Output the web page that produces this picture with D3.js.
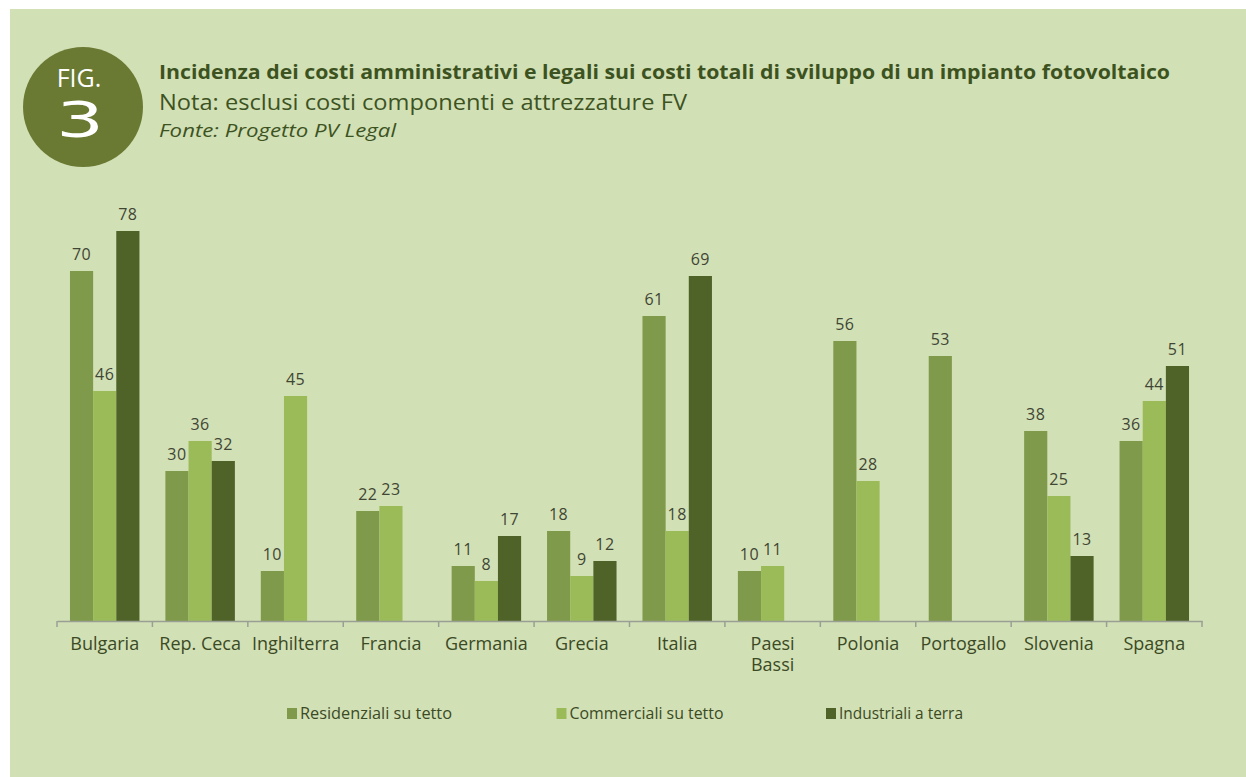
<!DOCTYPE html>
<html>
<head>
<meta charset="utf-8">
<script src="https://cdn.jsdelivr.net/npm/d3@7/dist/d3.min.js"></script>
<style>
  html, body { margin: 0; padding: 0; background: #ffffff; }
  svg { display: block; }
</style>
</head>
<body>
<svg id="chart" width="1246" height="777"></svg>
<script>
// Countries on the x axis
const categories = ["Bulgaria", "Rep. Ceca", "Inghilterra", "Francia", "Germania", "Grecia",
  "Italia", "Paesi Bassi", "Polonia", "Portogallo", "Slovenia", "Spagna"];

// Share of administrative and legal costs (%), per plant type; null = no data
const residenziali = [70, 30, 10, 22, 11, 18, 61, 10, 56, 53, 38, 36];
const commerciali  = [46, 36, 45, 23, 8, 9, 18, 11, 28, null, 25, 44];
const industriali  = [78, 32, null, null, 17, 12, 69, null, null, null, 13, 51];

const seriesNames = ["Residenziali su tetto", "Commerciali  su tetto", "Industriali a terra"];
const seriesValues = [residenziali, commerciali, industriali];
const seriesColors = ["#7f9a4a", "#9bbb59", "#4f6228"];

const titleText = "Incidenza dei costi amministrativi e legali sui costi totali di sviluppo di un impianto fotovoltaico";
const noteText = "Nota: esclusi costi componenti e attrezzature FV";
const sourceText = "Fonte: Progetto PV Legal";

const svg = d3.select("#chart");
const textFont = "'Open Sans', 'DejaVu Sans', sans-serif";

// Background panel
svg.append("rect")
  .attr("x", 10).attr("y", 9)
  .attr("width", 1246 - 10).attr("height", 777 - 9)
  .attr("fill", "#d2e0b6");

// Figure badge
const badge = svg.append("g");
badge.append("circle")
  .attr("cx", 83).attr("cy", 107).attr("r", 60)
  .attr("fill", "#6b7a33");
badge.append("text")
  .attr("x", 79).attr("y", 87)
  .attr("text-anchor", "middle")
  .attr("font-family", textFont)
  .attr("font-size", 25)
  .attr("fill", "#ffffff")
  .text("FIG.");
badge.append("text")
  .attr("x", 0).attr("y", 0)
  .attr("text-anchor", "middle")
  .attr("font-family", "'DejaVu Sans', sans-serif")
  .attr("font-size", 50)
  .attr("fill", "#ffffff")
  .attr("transform", "translate(80,137) scale(1.5,1.0)")
  .text("3");

// Title block
svg.append("text")
  .attr("x", 159).attr("y", 79)
  .attr("font-family", textFont)
  .attr("font-size", 20)
  .attr("font-weight", "bold")
  .attr("fill", "#3d531f")
  .attr("textLength", 1011)
  .attr("lengthAdjust", "spacingAndGlyphs")
  .text(titleText);
svg.append("text")
  .attr("x", 159).attr("y", 110)
  .attr("font-family", textFont)
  .attr("font-size", 21)
  .attr("fill", "#3d531f")
  .attr("textLength", 528)
  .attr("lengthAdjust", "spacingAndGlyphs")
  .text(noteText);
svg.append("text")
  .attr("x", 159).attr("y", 137)
  .attr("font-family", textFont)
  .attr("font-size", 19)
  .attr("font-style", "italic")
  .attr("fill", "#3d531f")
  .attr("textLength", 237)
  .attr("lengthAdjust", "spacingAndGlyphs")
  .text(sourceText);

// Scales
const x0 = d3.scaleBand()
  .domain(categories)
  .range([57, 1202])
  .paddingInner(0)
  .paddingOuter(0);

const x1 = d3.scaleBand()
  .domain(d3.range(seriesNames.length))
  .range([0, x0.bandwidth()])
  .paddingInner(0)
  .paddingOuter(0.56);

const y = d3.scaleLinear()
  .domain([0, 78])
  .range([621, 231]);

// Bars
const groups = svg.append("g")
  .selectAll("g")
  .data(categories)
  .join("g")
  .attr("transform", d => `translate(${x0(d)},0)`);

const cells = groups.selectAll("g.cell")
  .data((d, i) => seriesValues.map((vals, s) => ({ s, v: vals[i] })).filter(c => c.v != null))
  .join("g")
  .attr("class", "cell");

cells.append("rect")
  .attr("x", d => x1(d.s))
  .attr("y", d => y(d.v))
  .attr("width", x1.bandwidth())
  .attr("height", d => y(0) - y(d.v))
  .attr("fill", d => seriesColors[d.s]);

cells.append("text")
  .attr("x", d => x1(d.s) + x1.bandwidth() / 2)
  .attr("y", d => y(d.v) - 11)
  .attr("text-anchor", "middle")
  .attr("font-family", textFont)
  .attr("font-size", 16)
  .attr("letter-spacing", 0.5)
  .attr("fill", "#3f4633")
  .text(d => d.v);

// X axis: baseline, category labels, boundary ticks
const xAxis = svg.append("g")
  .attr("transform", `translate(0,${y(0)})`)
  .call(d3.axisBottom(x0).tickSize(0).tickPadding(16).tickSizeOuter(0));

xAxis.select(".domain")
  .attr("stroke", "#9a9f94")
  .attr("stroke-width", 1.5);

// Labels wider than the room under their group wrap onto two lines
const labelRoom = 88;
xAxis.selectAll(".tick text")
  .attr("font-family", textFont)
  .attr("font-size", 18)
  .attr("fill", "#3b4a24")
  .each(function (d) {
    const t = d3.select(this);
    t.text(d);
    if (d.includes(" ") && this.getComputedTextLength() > labelRoom) {
      const words = d.split(" ");
      t.text(null);
      words.forEach((w, k) => {
        t.append("tspan")
          .attr("x", 0)
          .attr("dy", k === 0 ? "0.71em" : "1.2em")
          .text(w);
      });
      t.attr("dy", null);
    }
  });

const boundaries = categories.map(c => x0(c)).concat([x0.range()[1]]);
xAxis.selectAll("line.boundary")
  .data(boundaries)
  .join("line")
  .attr("class", "boundary")
  .attr("x1", d => d).attr("x2", d => d)
  .attr("y1", 0).attr("y2", 6)
  .attr("stroke", "#9a9f94")
  .attr("stroke-width", 1.5);

// Legend
const legendX = [287, 556.5, 826];
const legendTextWidth = [152, 154, 124];
const legend = svg.append("g")
  .selectAll("g")
  .data(seriesNames)
  .join("g")
  .attr("transform", (d, i) => `translate(${legendX[i]},708)`);

legend.append("rect")
  .attr("width", 10).attr("height", 11)
  .attr("fill", (d, i) => seriesColors[i]);

legend.append("text")
  .attr("x", 13).attr("y", 11)
  .attr("font-family", textFont)
  .attr("font-size", 16)
  .attr("fill", "#3b4a24")
  .attr("textLength", (d, i) => legendTextWidth[i])
  .attr("lengthAdjust", "spacingAndGlyphs")
  .text(d => d);
</script>
</body>
</html>
